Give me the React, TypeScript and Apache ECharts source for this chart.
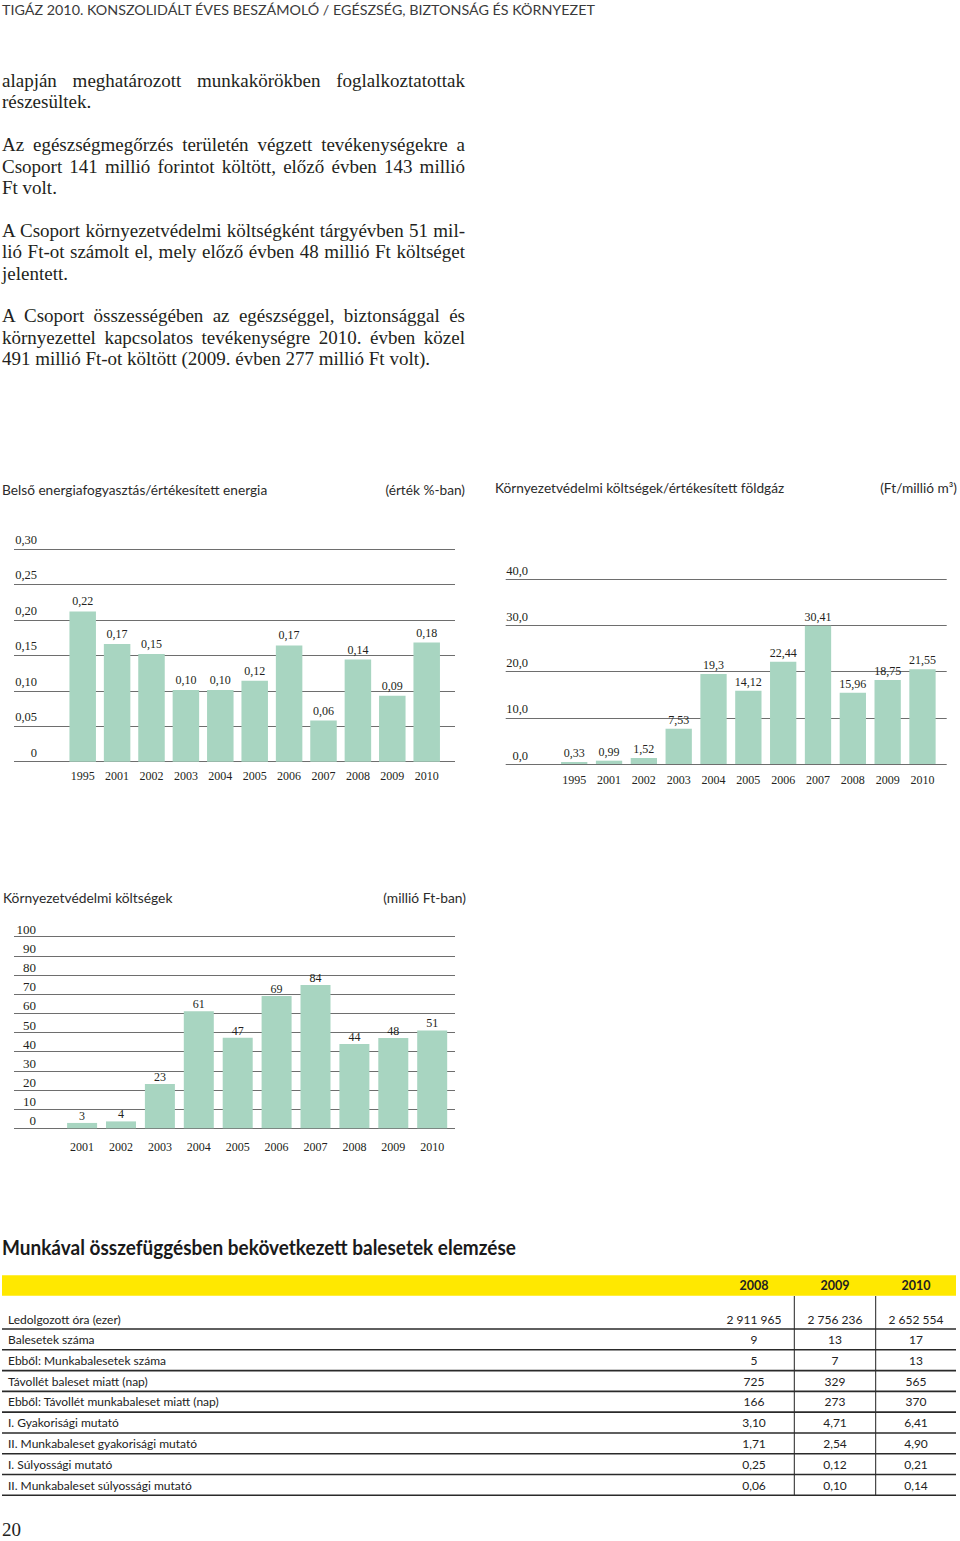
import React, { useEffect, useRef } from 'react';
import * as echarts from 'echarts';

// ---------- text content ----------
const headerText = 'TIGÁZ 2010. KONSZOLIDÁLT ÉVES BESZÁMOLÓ / EGÉSZSÉG, BIZTONSÁG ÉS KÖRNYEZET';

const paragraphs: string[][] = [
  ['alapján meghatározott munkakörökben foglalkoztatottak', 'részesültek.'],
  [
    'Az egészségmegőrzés területén végzett tevékenységekre a',
    'Csoport 141 millió forintot költött, előző évben 143 millió',
    'Ft volt.',
  ],
  [
    'A Csoport környezetvédelmi költségként tárgyévben 51 mil-',
    'lió Ft-ot számolt el, mely előző évben 48 millió Ft költséget',
    'jelentett.',
  ],
  [
    'A Csoport összességében az egészséggel, biztonsággal és',
    'környezettel kapcsolatos tevékenységre 2010. évben közel',
    '491 millió Ft-ot költött (2009. évben 277 millió Ft volt).',
  ],
];

// ---------- chart 1 ----------
const chart1Title = 'Belső energiafogyasztás/értékesített energia';
const chart1Unit = '(érték %-ban)';
const energyYears = ['1995', '2001', '2002', '2003', '2004', '2005', '2006', '2007', '2008', '2009', '2010'];
const energyValues = [0.212, 0.166, 0.152, 0.101, 0.101, 0.114, 0.164, 0.058, 0.144, 0.093, 0.168];
const energyLabels = ['0,22', '0,17', '0,15', '0,10', '0,10', '0,12', '0,17', '0,06', '0,14', '0,09', '0,18'];

// ---------- chart 2 ----------
const chart2Title = 'Környezetvédelmi költségek/értékesített földgáz';
const chart2Unit = '(Ft/millió m³)';
const gasYears = ['1995', '2001', '2002', '2003', '2004', '2005', '2006', '2007', '2008', '2009', '2010'];
const gasValues = [0.43, 0.72, 1.3, 7.64, 19.48, 15.87, 22.14, 29.93, 15.43, 18.18, 20.5];
const gasLabels = ['0,33', '0,99', '1,52', '7,53', '19,3', '14,12', '22,44', '30,41', '15,96', '18,75', '21,55'];

// ---------- chart 3 ----------
const chart3Title = 'Környezetvédelmi költségek';
const chart3Unit = '(millió Ft-ban)';
const costYears = ['2001', '2002', '2003', '2004', '2005', '2006', '2007', '2008', '2009', '2010'];
const costValues = [2.8, 3.6, 23.1, 61.1, 47.3, 69.0, 74.8, 44.0, 47.1, 51.1];
const costLabels = ['3', '4', '23', '61', '47', '69', '84', '44', '48', '51'];

// ---------- table ----------
const tableTitle = 'Munkával összefüggésben bekövetkezett balesetek elemzése';
const tableYears = ['2008', '2009', '2010'];
const tableRowNames = [
  'Ledolgozott óra (ezer)',
  'Balesetek száma',
  'Ebből: Munkabalesetek száma',
  'Távollét baleset miatt (nap)',
  'Ebből: Távollét munkabaleset miatt (nap)',
  'I. Gyakorisági mutató',
  'II. Munkabaleset gyakorisági mutató',
  'I. Súlyossági mutató',
  'II. Munkabaleset súlyossági mutató',
];
const table2008 = ['2 911 965', '9', '5', '725', '166', '3,10', '1,71', '0,25', '0,06'];
const table2009 = ['2 756 236', '13', '7', '329', '273', '4,71', '2,54', '0,12', '0,10'];
const table2010 = ['2 652 554', '17', '13', '565', '370', '6,41', '4,90', '0,21', '0,14'];
const pageNumber = '20';

// ---------- styles ----------
const SERIF = "'Liberation Serif', 'Times New Roman', serif";
const SANS = "Lato, 'Open Sans', sans-serif";
const BAR = '#a8d5c1';
const GRID = '#6e6e6e';
const INK = '#231f20';

function buildOption() {
  const lineGrid = (idx: number, max: number, interval: number, fmt: (v: number) => string, margin: number, pad: number, fs: number) => ({
    gridIndex: idx,
    type: 'value',
    min: 0,
    max,
    interval,
    axisLine: { show: false },
    axisTick: { show: false },
    splitLine: { show: true, lineStyle: { color: GRID, width: 1.2 } },
    axisLabel: {
      show: true,
      formatter: fmt,
      margin,
      align: 'right',
      verticalAlign: 'bottom',
      padding: [0, 0, pad, 0],
      fontFamily: SERIF,
      fontSize: fs,
      color: INK,
    },
  });
  const hiddenY = (idx: number, max: number) => ({ gridIndex: idx, type: 'value', min: 0, max, show: false });
  const hiddenX = (idx: number) => ({ gridIndex: idx, type: 'value', min: 0, max: 1, show: false });
  const catX = (idx: number, data: string[], margin: number) => ({
    gridIndex: idx,
    type: 'category',
    data,
    axisLine: { show: false },
    axisTick: { show: false },
    splitLine: { show: false },
    axisLabel: { margin, fontFamily: SERIF, fontSize: 12, color: INK, interval: 0 },
  });
  const bars = (xi: number, values: number[], labels: string[], width: number, dist: number) => ({
    type: 'bar',
    xAxisIndex: xi,
    yAxisIndex: xi,
    data: values,
    barWidth: width,
    itemStyle: { color: BAR },
    label: {
      show: true,
      position: 'top',
      distance: dist,
      fontFamily: SERIF,
      fontSize: 12,
      color: INK,
      formatter: (p: any) => labels[p.dataIndex],
    },
  });

  const txt = (x: number, y: number, text: string, font: string, align = 'left', fill = '#2b2b2b', scaleX = 1) => ({
    type: 'text',
    x,
    y,
    scaleX,
    silent: true,
    style: { text, font, fill, align, verticalAlign: 'middle' },
  });

  // table graphics
  const colCenters = [754, 835, 916];
  const colValues = [table2008, table2009, table2010];
  const rowTop = 1296;
  const firstRowBottom = 1329;
  const rowH = 20.79;
  const tableEls: any[] = [];
  tableEls.push({ type: 'rect', silent: true, shape: { x: 2, y: 1275.3, width: 954, height: 20.4 }, style: { fill: '#ffe800' } });
  tableYears.forEach((y, i) => tableEls.push(txt(colCenters[i], 1285.7, y, `bold 12.5px ${SANS}`, 'center', '#222')));
  const lastBottom = firstRowBottom + (tableRowNames.length - 1) * rowH;
  [794.3, 875.7].forEach((x) =>
    tableEls.push({ type: 'line', silent: true, shape: { x1: x, y1: rowTop, x2: x, y2: lastBottom }, style: { stroke: '#222', lineWidth: 1 } })
  );
  tableRowNames.forEach((name, r) => {
    const bottom = firstRowBottom + r * rowH;
    const cy = bottom - (r === 0 ? 9.3 : 10.2);
    tableEls.push({ type: 'line', silent: true, shape: { x1: 2, y1: bottom, x2: 956, y2: bottom }, style: { stroke: '#2a2a2a', lineWidth: 1.6 } });
    tableEls.push(txt(8, cy, name, `12px ${SANS}`, 'left', '#222'));
    colValues.forEach((vals, c) => tableEls.push(txt(colCenters[c], cy, vals[r], `12px ${SANS}`, 'center', '#222')));
  });

  return {
    animation: false,
    grid: [
      { left: 14, top: 549, width: 441, height: 212.7 },
      { left: 65.5, top: 549, width: 378.4, height: 212.7 },
      { left: 505.7, top: 579.3, width: 441, height: 184.7 },
      { left: 556.8, top: 579.3, width: 383.1, height: 184.7 },
      { left: 14, top: 936.7, width: 441, height: 191.6 },
      { left: 62.65, top: 936.7, width: 389, height: 191.6 },
    ],
    xAxis: [
      hiddenX(0),
      catX(1, energyYears, 8),
      hiddenX(2),
      catX(3, gasYears, 10),
      hiddenX(4),
      catX(5, costYears, 13),
    ],
    yAxis: [
      lineGrid(0, 0.3, 0.05, (v: number) => (v === 0 ? '0' : v.toFixed(2).replace('.', ',')), -23, 2.5, 12.5),
      hiddenY(1, 0.3),
      lineGrid(2, 40, 10, (v: number) => v.toFixed(1).replace('.', ','), -22.3, 2, 12.5),
      hiddenY(3, 40),
      lineGrid(4, 100, 10, (v: number) => String(Math.round(v)), -22, 1, 13),
      hiddenY(5, 100),
    ],
    series: [
      bars(1, energyValues, energyLabels, 26.5, 4),
      bars(3, gasValues, gasLabels, 26.3, 3),
      bars(5, costValues, costLabels, 30, 1),
    ],
    graphic: [
      txt(2, 9, headerText, `14.3px ${SANS}`, 'left', '#3a3a3a'),
      txt(2, 489, chart1Title, `13.7px ${SANS}`),
      txt(465, 489, chart1Unit, `13.7px ${SANS}`, 'right'),
      txt(495, 487, chart2Title, `13.7px ${SANS}`),
      txt(957, 487, chart2Unit, `13.7px ${SANS}`, 'right'),
      txt(3, 897, chart3Title, `13.8px ${SANS}`),
      txt(466, 897, chart3Unit, `13.8px ${SANS}`, 'right'),
      txt(2, 1247, tableTitle, `bold 20px ${SANS}`, 'left', '#1a1a1a', 0.95),
      ...tableEls,
      txt(2, 1529, pageNumber, `19px ${SERIF}`, 'left', '#222'),
    ],
  };
}

export default function App() {
  const ref = useRef<HTMLDivElement>(null);
  useEffect(() => {
    if (!ref.current) return;
    const chart = echarts.init(ref.current, undefined, { renderer: 'svg' });
    chart.setOption(buildOption() as any);
    return () => chart.dispose();
  }, []);

  const lineEls: React.ReactNode[] = [];
  let row = 0;
  paragraphs.forEach((lines, p) => {
    lines.forEach((line, i) => {
      const last = i === lines.length - 1;
      const centerY = 80.7 + row * 21.4;
      lineEls.push(
        <div
          key={`${p}-${i}`}
          style={{
            position: 'absolute',
            left: 2,
            top: centerY - 10.7,
            width: 463,
            height: 21.4,
            lineHeight: '21.4px',
            fontFamily: SERIF,
            fontSize: 19,
            color: INK,
            whiteSpace: 'nowrap',
            textAlign: last ? 'left' : 'justify',
            textAlignLast: last ? 'left' : 'justify',
          } as React.CSSProperties}
        >
          {line}
        </div>
      );
      row += 1;
    });
    row += 1;
  });

  return (
    <div style={{ position: 'absolute', left: 0, top: 0, width: 960, height: 1541, background: '#fff', overflow: 'hidden' }}>
      <div ref={ref} style={{ position: 'absolute', left: 0, top: 0, width: 960, height: 1541 }} />
      <div style={{ position: 'absolute', left: 0, top: 0, width: 960, height: 0 }}>{lineEls}</div>
    </div>
  );
}
